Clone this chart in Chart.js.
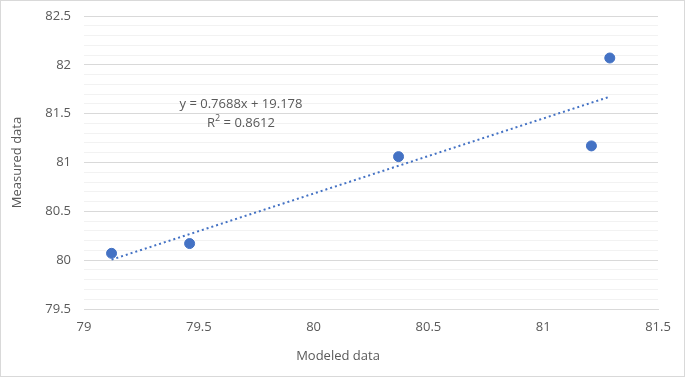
<!DOCTYPE html>
<html>
<head>
<meta charset="utf-8">
<script src="https://cdn.jsdelivr.net/npm/chart.js@4.4.0/dist/chart.umd.min.js"></script>
<style>
html,body{margin:0;padding:0;background:#fff;}
#wrap{position:relative;width:683px;height:375px;border:1px solid #d9d9d9;}
</style>
</head>
<body>
<div id="wrap"><canvas id="mycanvas" width="683" height="375"></canvas></div>
<script>
// data
var modeled = [79.12, 79.46, 80.37, 81.21, 81.29];
var measured = [80.07, 80.17, 81.06, 81.17, 82.07];
// trendline as printed on the chart
var slope = 0.7688;
var intercept = 19.178;
var eqText = 'y = 0.7688x + 19.178';
var r2Text = '0.8612';
var xTitle = 'Modeled data';
var yTitle = 'Measured data';

var pts = [];
for (var i in modeled) {
	pts.push({x: modeled[i], y: measured[i]});
}
var xMin = Math.min.apply(null, modeled);
var xMax = Math.max.apply(null, modeled);
var trend = [
	{x: xMin, y: slope * xMin + intercept},
	{x: xMax, y: slope * xMax + intercept}
];

var txt = '#595959';
var font = '"Open Sans", "Noto Sans", sans-serif';

var labelPlugin = {
	id: 'eqLabel',
	afterDatasetsDraw: function(chart) {
		var c = chart.ctx;
		c.save();
		c.fillStyle = txt;
		c.font = '13px ' + font;
		c.textAlign = 'center';
		c.textBaseline = 'middle';
		c.fillText(eqText, 240, 103);
		// x axis title sits left of centre in the original
		c.fillText(xTitle, 337, 355);
		// R² line with superscript
		var a = 'R', b = ' = ' + r2Text;
		var wa = c.measureText(a).width, wb = c.measureText(b).width;
		c.font = '9px ' + font;
		var ws = c.measureText('2').width;
		var x0 = 240 - (wa + ws + wb) / 2;
		c.textAlign = 'left';
		c.font = '13px ' + font;
		c.fillText(a, x0, 122);
		c.font = '9px ' + font;
		c.fillText('2', x0 + wa, 117);
		c.font = '13px ' + font;
		c.fillText(b, x0 + wa + ws, 122);
		c.restore();
	}
};

var ctx = document.getElementById('mycanvas');
var chart = new Chart(ctx, {
	type: 'scatter',
	data: {
		datasets: [
			{
				label: 'Measured',
				data: pts,
				backgroundColor: '#4472C4',
				borderColor: '#4472C4',
				pointRadius: 5,
				pointHoverRadius: 5,
				order: 1
			},
			{
				label: 'Trend',
				type: 'line',
				data: trend,
				borderColor: '#4472C4',
				borderWidth: 2,
				borderDash: [2, 3],
				pointRadius: 0,
				fill: false,
				order: 2
			}
		]
	},
	options: {
		responsive: false,
		animation: false,
		layout: {padding: {left: 0, right: 26, top: 15, bottom: 0}},
		plugins: {legend: {display: false}, tooltip: {enabled: false}},
		scales: {
			x: {
				type: 'linear',
				min: 79, max: 81.5,
				afterFit: function(s) { s.height = 67; },
				grid: {display: false, drawTicks: false},
				border: {display: true, color: '#d9d9d9', width: 1},
				ticks: {
					stepSize: 0.5, color: txt, padding: 10,
					font: {family: font, size: 13},
					callback: function(v) { return String(Math.round(v * 10) / 10); }
				}
			},
			y: {
				min: 79.5, max: 82.5,
				afterFit: function(s) {
					s.width = 83;
					s.paddingTop = 0;
					s.paddingBottom = 0;
				},
				grid: {
					drawTicks: false,
					color: function(c) {
						var t = Math.round(c.tick.value * 10);
						return t % 5 === 0 ? '#d9d9d9' : '#f2f2f2';
					}
				},
				border: {display: false},
				ticks: {
					stepSize: 0.1, autoSkip: false, color: txt, padding: 13,
					font: {family: font, size: 13},
					callback: function(v) {
						var t = Math.round(v * 10);
						return t % 5 === 0 ? String(t / 10) : '';
					}
				},
				title: {
					display: true, text: yTitle, color: txt,
					font: {family: font, size: 13},
					padding: {top: 8, bottom: 0}
				}
			}
		}
	},
	plugins: [labelPlugin]
});
</script>
</body>
</html>
